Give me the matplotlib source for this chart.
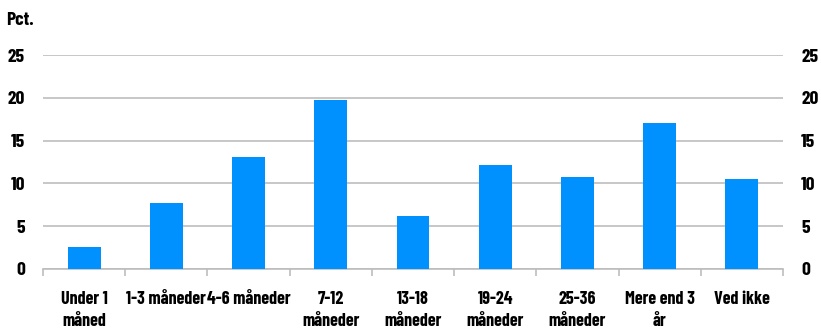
import matplotlib
matplotlib.use("Agg")
import matplotlib.pyplot as plt

categories = ["Under 1\nmåned", "1-3 måneder", "4-6 måneder", "7-12\nmåneder",
              "13-18\nmåneder", "19-24\nmåneder", "25-36\nmåneder",
              "Mere end 3\når", "Ved ikke"]
values = [2.6, 7.7, 13.1, 19.7, 6.2, 12.1, 10.7, 17.0, 10.5]
yticks = [0, 5, 10, 15, 20, 25]

plt.rcParams["font.family"] = ["Barlow Condensed", "DejaVu Sans"]
plt.rcParams["font.weight"] = 700
grid_color = "#BDBDBD"

fig = plt.figure(figsize=(8.21, 3.29), dpi=100)
ax = fig.add_axes([0.0524, 0.1824, 0.9013, 0.6504])

x = range(len(values))
ax.bar(x, values, width=0.4, color="#0091FF", zorder=3)

ax.set_xlim(-0.5, len(values) - 0.5)
ax.set_ylim(0, 25)
ax.set_yticks(yticks)
ax.yaxis.grid(True, color=grid_color, linewidth=1.2, zorder=0)
ax.tick_params(axis="y", length=0, labelsize=14, pad=13,
               labelleft=True, labelright=True)

ax.set_xticks(list(x))
ax.set_xticklabels(categories, fontsize=13, linespacing=1.35)
ax.tick_params(axis="x", length=0, pad=16)
ax.set_xticks([i - 0.5 for i in range(len(values) + 1)], minor=True)
ax.tick_params(axis="x", which="minor", length=5, color=grid_color, width=1.2)

for side in ["top", "left", "right"]:
    ax.spines[side].set_visible(False)
ax.spines["bottom"].set_color(grid_color)
ax.spines["bottom"].set_linewidth(1.2)

fig.text(0.008, 0.925, "Pct.", fontsize=14)

fig.savefig("out.png", dpi=100)
